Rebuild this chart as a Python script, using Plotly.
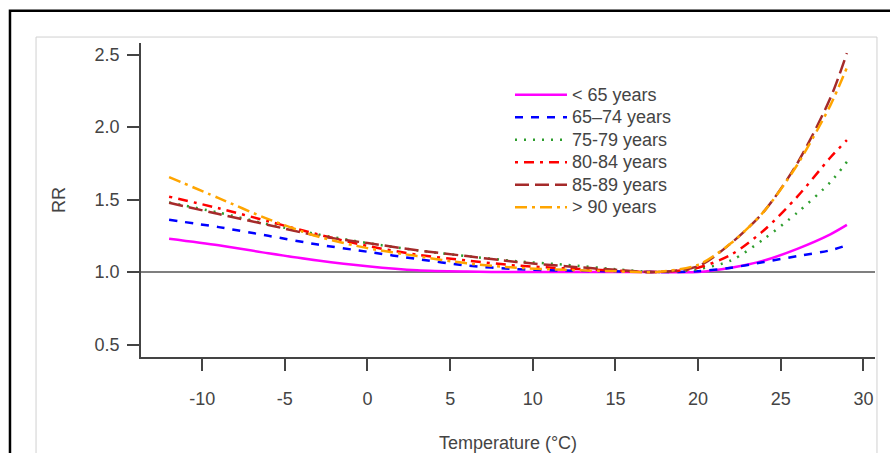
import plotly.graph_objects as go

temps = [-12, -9, -6, -3, 0, 3, 6, 9, 12, 15, 17.5, 20, 22, 24, 26, 28, 29]

rr_lt65 = [1.23, 1.185, 1.13, 1.08, 1.04, 1.012, 1.003, 1.0, 1.0, 1.0, 1.0, 1.0, 1.03, 1.08, 1.16, 1.26, 1.325]
rr_65_74 = [1.36, 1.31, 1.25, 1.19, 1.14, 1.09, 1.045, 1.02, 1.01, 1.005, 1.0, 1.005, 1.03, 1.07, 1.11, 1.15, 1.185]
rr_75_79 = [1.48, 1.41, 1.33, 1.26, 1.2, 1.15, 1.11, 1.075, 1.05, 1.02, 1.0, 1.02, 1.08, 1.23, 1.41, 1.62, 1.76]
rr_80_84 = [1.52, 1.44, 1.35, 1.26, 1.18, 1.12, 1.08, 1.045, 1.025, 1.01, 1.0, 1.03, 1.12, 1.29, 1.52, 1.79, 1.91]
rr_85_89 = [1.478, 1.40, 1.325, 1.25, 1.2, 1.15, 1.11, 1.07, 1.04, 1.015, 1.0, 1.04, 1.2, 1.42, 1.75, 2.2, 2.51]
rr_gt90 = [1.655, 1.51, 1.365, 1.245, 1.165, 1.11, 1.06, 1.03, 1.015, 1.005, 1.0, 1.05, 1.2, 1.42, 1.74, 2.15, 2.41]

names = ["&lt; 65 years", "65\u201374 years", "75-79 years", "80-84 years", "85-89 years", "&gt; 90 years"]
series = [rr_lt65, rr_65_74, rr_75_79, rr_80_84, rr_85_89, rr_gt90]
colors = ["#FF00FF", "#0000FF", "#2E9E2E", "#FF0000", "#A52A2A", "#FFA500"]
dashes = ["solid", "8px,8px", "2px,7px", "3px,6px,10px,6px", "14px,6px", "12px,5px,3px,5px"]

x_ticks = [-10, -5, 0, 5, 10, 15, 20, 25, 30]
y_ticks = [0.5, 1.0, 1.5, 2.0, 2.5]

fig = go.Figure()
for n, s, c, d in zip(names, series, colors, dashes):
    fig.add_trace(go.Scatter(x=temps, y=s, mode="lines",
                             name='<span style="font-size:18px">' + n + '</span>',
                             line=dict(color=c, width=2.5, dash=d, shape="spline", smoothing=0.8)))

fam = "Liberation Sans, Arial, sans-serif"
font = dict(family=fam, size=18, color="#444")
lfont = dict(family=fam, size=15, color="#444")

fig.update_layout(
    width=890, height=453,
    margin=dict(l=141, r=15, t=43, b=96),
    paper_bgcolor="white", plot_bgcolor="white",
    font=font,
    showlegend=True,
    legend=dict(x=0.5027, y=0.887, xanchor="left", yanchor="top",
                bgcolor="rgba(0,0,0,0)", font=lfont, itemwidth=52, tracegroupgap=0),
    xaxis=dict(range=[-13.7, 30.7], tickvals=x_ticks, ticktext=[str(v) for v in x_ticks],
               showgrid=False, zeroline=False, showline=True, linecolor="#444", linewidth=1.5,
               ticks="outside", ticklen=12, tickwidth=1.5, tickcolor="#444",
               ticklabelstandoff=13, automargin=False, tickfont=font,
               title=dict(text="Temperature (\u00b0C)", standoff=30, font=font)),
    yaxis=dict(range=[0.414, 2.58], tickvals=y_ticks, ticktext=["0.5", "1.0", "1.5", "2.0", "2.5"],
               showgrid=False, zeroline=False, showline=True, linecolor="#444", linewidth=1.5,
               ticks="outside", ticklen=12, tickwidth=1.5, tickcolor="#444",
               ticklabelstandoff=4, automargin=False, tickfont=font,
               title=dict(text="RR", standoff=24, font=font)),
    shapes=[
        dict(type="rect", xref="paper", yref="paper", x0=-0.143, x1=1.0027, y0=-0.33, y1=1.019,
             line=dict(color="#d0d0d0", width=1), layer="below"),
        dict(type="rect", xref="paper", yref="paper", x0=-0.1785, x1=1.05, y0=-0.35, y1=1.103,
             line=dict(color="black", width=2.5), layer="below"),
        dict(type="line", xref="paper", yref="y", x0=0, x1=1, y0=1.0, y1=1.0,
             line=dict(color="#555", width=1.5), layer="below"),
    ],
)

fig.write_html("out.html")
